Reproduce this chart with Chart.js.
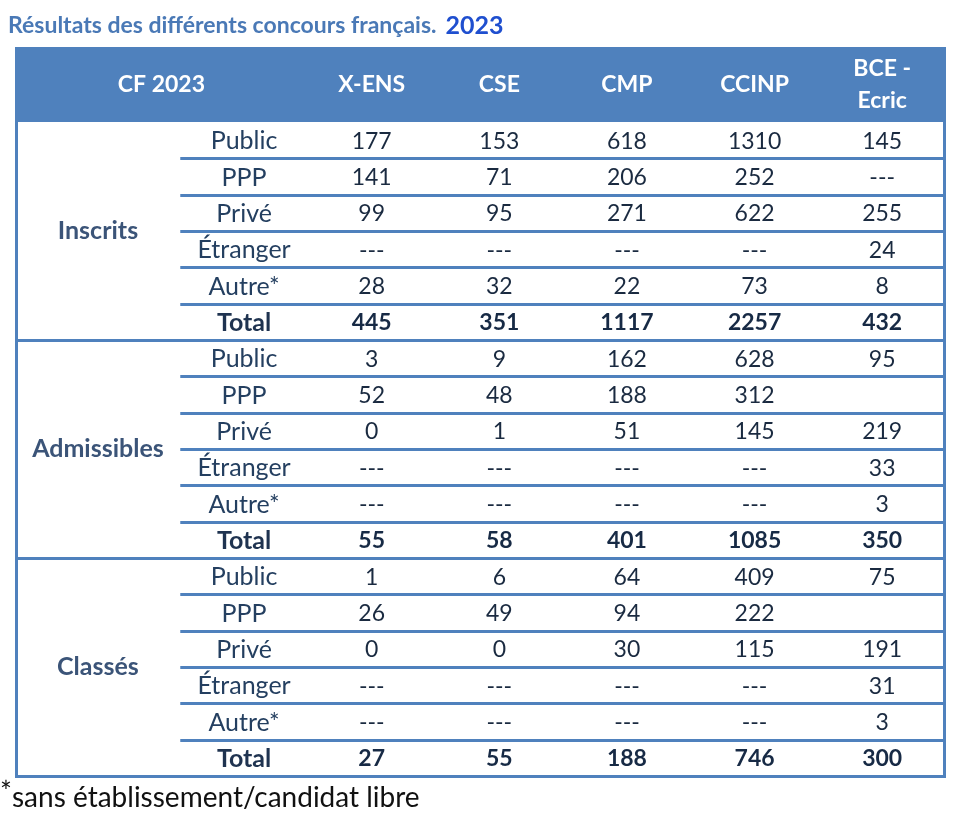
<!DOCTYPE html>
<html>
<head>
<meta charset="utf-8">
<script src="https://cdn.jsdelivr.net/npm/chart.js@4"></script>
<style>
  body { margin: 0; background: #fff; }
  #table { display: block; }
</style>
</head>
<body>
<canvas id="table" width="955" height="832"></canvas>
<script>
const concours = ['X-ENS', 'CSE', 'CMP', 'CCINP', ['BCE -', 'Ecric']];
const groups = ['Inscrits', 'Admissibles', 'Classés'];
const subRows = ['Public', 'PPP', 'Privé', 'Étranger', 'Autre*', 'Total'];

const inscrits = [
  [177, 153, 618, 1310, 145],
  [141, 71, 206, 252, '---'],
  [99, 95, 271, 622, 255],
  ['---', '---', '---', '---', 24],
  [28, 32, 22, 73, 8],
  [445, 351, 1117, 2257, 432]
];
const admissibles = [
  [3, 9, 162, 628, 95],
  [52, 48, 188, 312, ''],
  [0, 1, 51, 145, 219],
  ['---', '---', '---', '---', 33],
  ['---', '---', '---', '---', 3],
  [55, 58, 401, 1085, 350]
];
const classes = [
  [1, 6, 64, 409, 75],
  [26, 49, 94, 222, ''],
  [0, 0, 30, 115, 191],
  ['---', '---', '---', '---', 31],
  ['---', '---', '---', '---', 3],
  [27, 55, 188, 746, 300]
];
const groupValues = [inscrits, admissibles, classes];

const BLUE = '#4f81bd';
const FONT = 'Lato, "Open Sans", sans-serif';

// one point per cell, positions come from the scales
const cells = [];
groupValues.forEach((g, gi) => {
  g.forEach((row, ri) => {
    row.forEach((v, ci) => {
      cells.push({ x: ci + 1, y: gi * subRows.length + ri, v: v, total: ri === subRows.length - 1 });
    });
  });
});

const tablePlugin = {
  id: 'tablePlugin',
  beforeDatasetsDraw(chart) {
    const { ctx, chartArea: a, scales: { x, y } } = chart;
    const nRows = groups.length * subRows.length;
    ctx.save();

    // header band
    const headTop = a.top, headBot = y.getPixelForValue(-0.5);
    ctx.fillStyle = BLUE;
    ctx.fillRect(a.left, headTop, a.right - a.left, headBot - headTop);

    // row lines
    ctx.strokeStyle = BLUE;
    ctx.lineWidth = 3;
    for (let r = 1; r <= nRows; r++) {
      const py = Math.round(y.getPixelForValue(r - 0.5)) + 0.5;
      const full = r % subRows.length === 0;
      ctx.beginPath();
      ctx.moveTo(full ? a.left : x.getPixelForValue(-0.5), py);
      ctx.lineTo(a.right, py);
      ctx.stroke();
    }
    // outer verticals
    ctx.beginPath();
    ctx.moveTo(a.left + 1.5, headBot);
    ctx.lineTo(a.left + 1.5, y.getPixelForValue(nRows - 0.5));
    ctx.moveTo(a.right - 1.5, headBot);
    ctx.lineTo(a.right - 1.5, y.getPixelForValue(nRows - 0.5));
    ctx.stroke();

    // header text
    ctx.fillStyle = '#ffffff';
    ctx.font = 'bold 23px ' + FONT;
    ctx.textAlign = 'center';
    ctx.textBaseline = 'middle';
    const hy = (headTop + headBot) / 2;
    ctx.fillText('CF 2023', (a.left + x.getPixelForValue(0.5)) / 2, hy);
    concours.forEach((c, i) => {
      const px = x.getPixelForValue(i + 1);
      if (Array.isArray(c)) {
        ctx.fillText(c[0], px, hy - 16);
        ctx.fillText(c[1], px, hy + 16);
      } else {
        ctx.fillText(c, px, hy);
      }
    });

    // group labels
    groups.forEach((g, gi) => {
      const cy = y.getPixelForValue(gi * subRows.length + (subRows.length - 1) / 2);
      ctx.fillStyle = '#3b5478';
      ctx.font = 'bold 25px ' + FONT;
      ctx.fillText(g, x.getPixelForValue(-1.145), cy);
      subRows.forEach((s, ri) => {
        const total = ri === subRows.length - 1;
        ctx.fillStyle = total ? '#1f3350' : '#243f60';
        ctx.font = (total ? 'bold ' : '') + '25px ' + FONT;
        ctx.fillText(s, x.getPixelForValue(0), y.getPixelForValue(gi * subRows.length + ri) + 1);
      });
    });

    // values
    cells.forEach(c => {
      ctx.fillStyle = c.total ? '#172a45' : '#1a2a40';
      ctx.font = (c.total ? 'bold ' : '') + '23px ' + FONT;
      ctx.fillText(String(c.v), x.getPixelForValue(c.x), y.getPixelForValue(c.y) + 1);
    });

    // title
    ctx.textAlign = 'left';
    ctx.textBaseline = 'alphabetic';
    ctx.fillStyle = '#4a79b6';
    ctx.font = 'bold 23px ' + FONT;
    const t1 = 'Résultats des différents concours français.';
    ctx.fillText(t1, 8, 33);
    const w1 = ctx.measureText(t1).width;
    ctx.fillStyle = '#1f4fcf';
    ctx.font = 'bold 25px ' + FONT;
    ctx.fillText('2023', 8 + w1 + 9, 34);

    // footnote
    ctx.fillStyle = '#111111';
    ctx.font = '28px ' + FONT;
    ctx.fillText('*', 0, 802);
    ctx.fillText('sans établissement/candidat libre', 12, 807);
    ctx.restore();
  }
};

new Chart(document.getElementById('table'), {
  type: 'scatter',
  data: {
    datasets: [{
      data: cells,
      pointRadius: 0,
      pointHoverRadius: 0
    }]
  },
  options: {
    responsive: false,
    animation: false,
    events: [],
    layout: { padding: { left: 15, right: 9, top: 47, bottom: 56 } },
    scales: {
      x: { type: 'linear', display: false, min: -1.795, max: 5.5 },
      y: { type: 'linear', display: false, min: -2.564, max: 17.5, reverse: true }
    },
    plugins: {
      legend: { display: false },
      tooltip: { enabled: false },
      title: { display: false }
    }
  },
  plugins: [tablePlugin]
});
</script>
</body>
</html>
